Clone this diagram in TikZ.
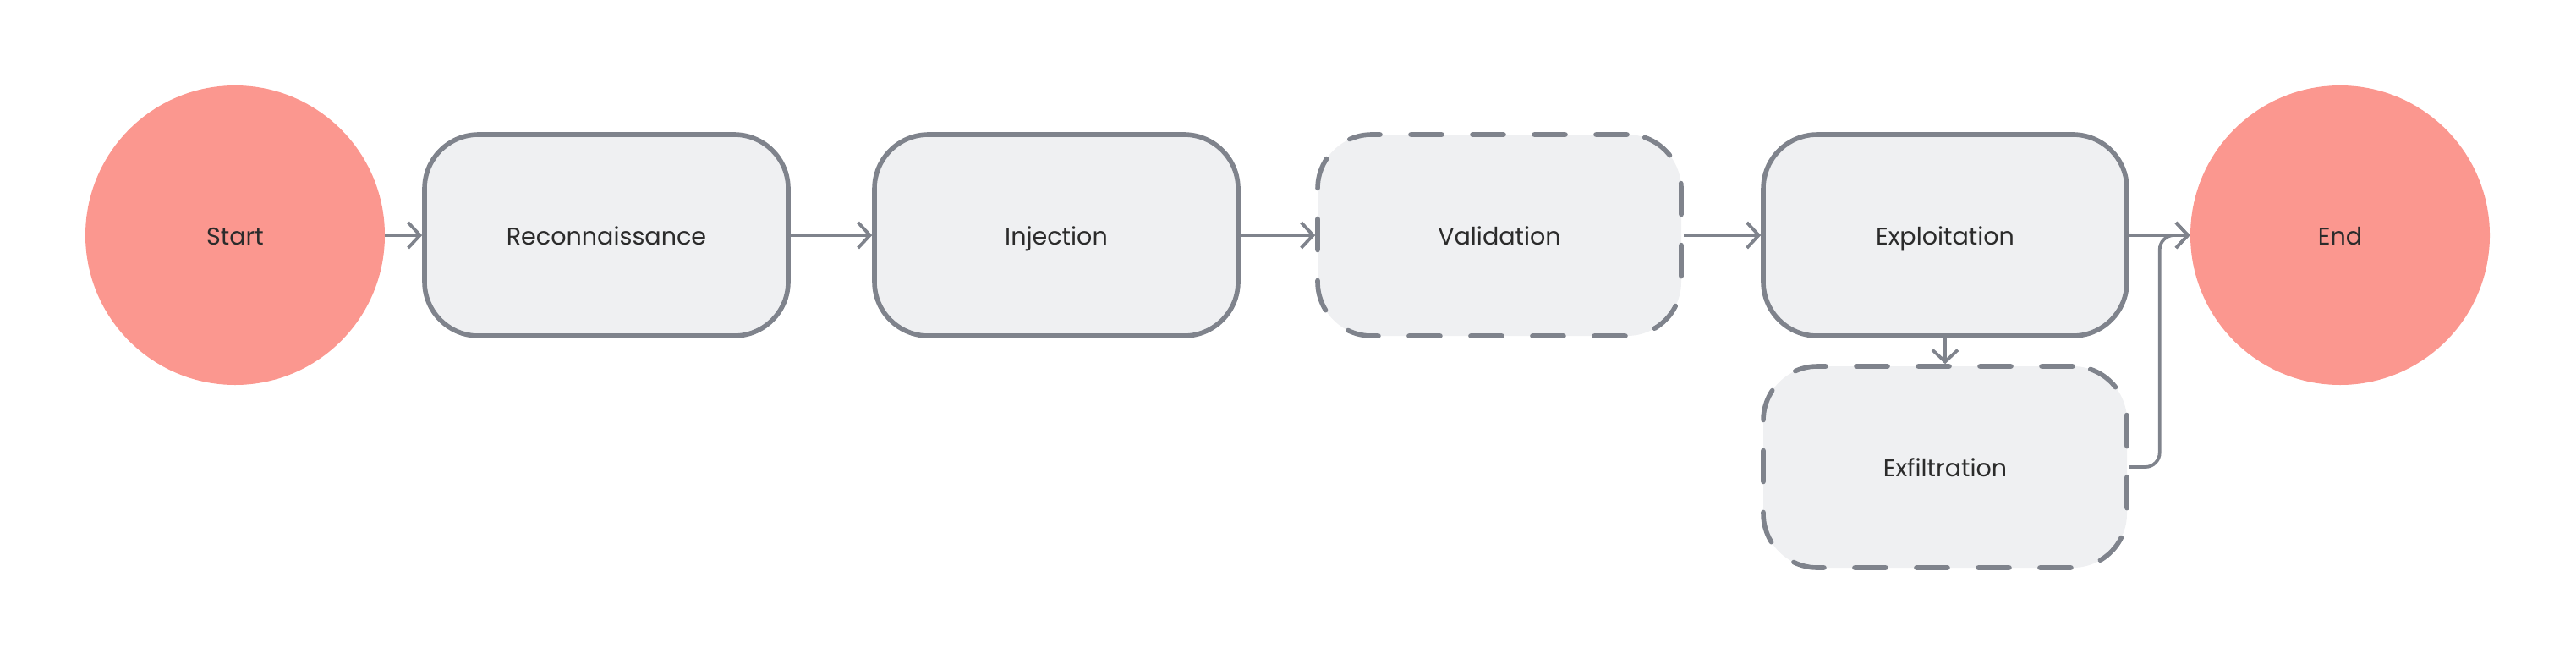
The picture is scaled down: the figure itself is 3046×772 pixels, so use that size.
\documentclass[tikz,border=0pt]{standalone}
\usepackage{fontspec}
\setmainfont{Poppins}
\usetikzlibrary{arrows.meta,calc}
\definecolor{salmon}{HTML}{FB978F}
\definecolor{boxfill}{HTML}{EFF0F2}
\definecolor{edgecol}{HTML}{7F838C}
\definecolor{txt}{HTML}{2B2B2B}
\tikzset{
  term/.style={circle, fill=salmon, minimum size=177pt, inner sep=0pt, text=txt,
    font=\fontsize{14.3}{17}\selectfont, text height=14.5pt, text depth=3pt},
  stepbox/.style={rectangle, rounded corners=32pt, draw=edgecol, line width=2.8pt, fill=boxfill,
    minimum width=215pt, minimum height=119pt, inner sep=0pt, text=txt,
    font=\fontsize{14.3}{17}\selectfont, text height=14.5pt, text depth=3pt},
  dashbox/.style={stepbox, line cap=round, dash pattern=on 18.5pt off 18pt},
  conn/.style={draw=edgecol, line width=1.9pt, -{Straight Barb[length=7pt,width=15pt,line width=1.9pt]}},
}
\begin{document}
\begin{tikzpicture}[x=0.5pt,y=-0.5pt]
\useasboundingbox (0,0) rectangle (3046,772);
\node[term] (start) at (278,278) {Start};
\node[stepbox] (recon) at (717,278) {Reconnaissance};
\node[stepbox] (inj) at (1249,278) {Injection};
\node[dashbox] (val) at (1773,278) {Validation};
\node[stepbox] (expl) at (2300,278) {Exploitation};
\node[dashbox] (exfil) at (2300,552) {Exfiltration};
\node[term] (end) at (2767,278) {End};
\coordinate (mid) at ($(expl.east)!0.5!(end.west)$);
\draw[conn] (start) -- (recon);
\draw[conn] (recon) -- (inj);
\draw[conn] (inj) -- (val);
\draw[conn] (val) -- (expl);
\draw[conn] (expl) -- (end);
\draw[conn] (expl) -- (exfil);
\draw[conn, rounded corners=8.5pt] (exfil.east) -| (mid) -- (end.west);
\end{tikzpicture}
\end{document}
